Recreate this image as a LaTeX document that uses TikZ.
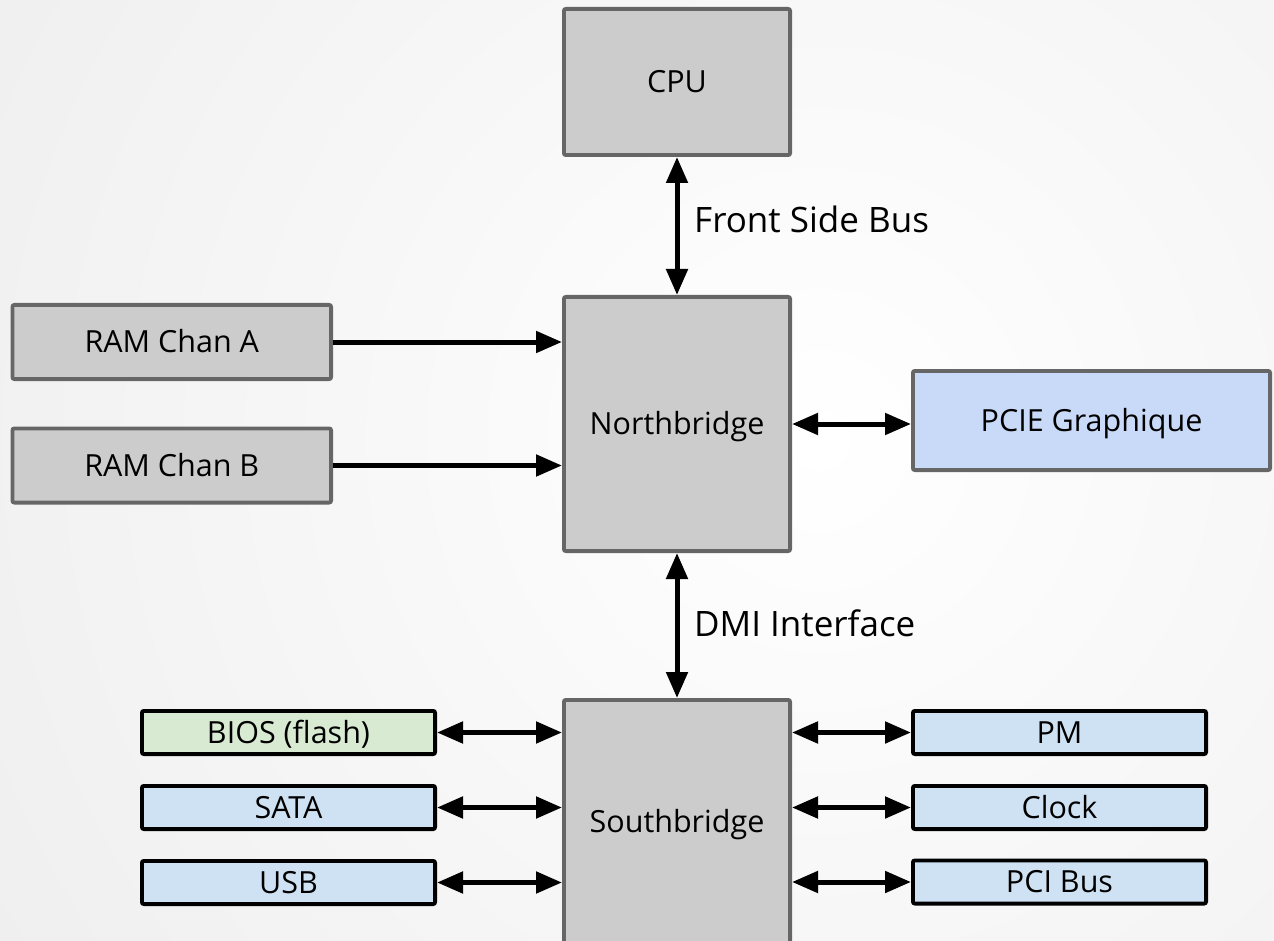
\documentclass[tikz,border=0pt]{standalone}
\usepackage{fontspec}
\setmainfont{Open Sans}
\usetikzlibrary{arrows.meta}
\definecolor{bggray}{RGB}{222,222,222}
\definecolor{boxgray}{RGB}{204,204,204}
\definecolor{edgegray}{RGB}{102,102,102}
\definecolor{pcieblue}{RGB}{201,218,248}
\definecolor{lightblue}{RGB}{207,226,243}
\definecolor{lightgreen}{RGB}{217,234,211}
\tikzset{
  bigbox/.style={draw=edgegray, fill=boxgray, line width=3.8pt, rounded corners=2pt,
    inner sep=0pt, text height=21.8pt, text depth=0pt,
    font=\fontsize{30.5}{36}\selectfont},
  smallbox/.style={draw=black, line width=3.8pt, rounded corners=2pt,
    inner sep=0pt, text height=21.8pt, text depth=0pt,
    minimum width=293.2pt, minimum height=43.2pt,
    font=\fontsize{30.5}{36}\selectfont},
  link/.style={line width=5pt, -{Triangle[length=26pt,width=21pt]}},
  biglink/.style={line width=5pt, {Triangle[length=26pt,width=21pt]}-{Triangle[length=26pt,width=21pt]}},
  buslabel/.style={inner sep=0pt, anchor=base west, font=\fontsize{35}{42}\selectfont}
}
\begin{document}
\begin{tikzpicture}[x=1pt,y=-1pt]
\useasboundingbox (0,0) rectangle (1274,941);
\begin{scope}
\clip (0,0) rectangle (1274,941);
\shade[inner color=white, outer color=bggray] (820,440) circle (2000);
\end{scope}
\begin{scope}
\clip (0,0) rectangle (1274,941);
\node[bigbox, minimum width=226.2pt, minimum height=146.2pt] (cpu) at (677,82) {CPU};
\node[bigbox, minimum width=226.2pt, minimum height=254.2pt] (nb) at (677,424) {Northbridge};
\node[bigbox, minimum width=226.2pt, minimum height=244.2pt] (sb) at (677,822) {Southbridge};
\node[bigbox, minimum width=318.7pt, minimum height=74.2pt] (rama) at (171.75,342) {RAM Chan A};
\node[bigbox, minimum width=318.7pt, minimum height=74.2pt] (ramb) at (171.75,465.5) {RAM Chan B};
\node[bigbox, fill=pcieblue, minimum width=357.2pt, minimum height=99.2pt] (pcie) at (1091.5,420.5) {PCIE Graphique};
\end{scope}
\node[smallbox, fill=lightgreen] (bios) at (288.5,732.5) {BIOS (flash)};
\node[smallbox, fill=lightblue] (sata) at (288.5,807.5) {SATA};
\node[smallbox, fill=lightblue] (usb) at (288.5,882.5) {USB};
\node[smallbox, fill=lightblue] (pm) at (1059.5,732.5) {PM};
\node[smallbox, fill=lightblue] (clock) at (1059.5,807.5) {Clock};
\node[smallbox, fill=lightblue] (pci) at (1059.5,882) {PCI Bus};

\draw[biglink] (cpu.south) -- (nb.north);
\draw[biglink] (nb.south) -- (sb.north);
\node[buslabel] (fsb) at (694,233) {Front Side Bus};
\node[buslabel] (dmi) at (694,636) {DMI Interface};

\draw[link] (rama.east) -- (nb.west |- rama.east);
\draw[link] (ramb.east) -- (nb.west |- ramb.east);
\draw[biglink] (nb.east) -- (pcie.west |- nb.east);

\draw[biglink] (bios.east) -- (sb.west |- bios.east);
\draw[biglink] (sata.east) -- (sb.west |- sata.east);
\draw[biglink] (usb.east) -- (sb.west |- usb.east);
\draw[biglink] (sb.east |- pm.west) -- (pm.west);
\draw[biglink] (sb.east |- clock.west) -- (clock.west);
\draw[biglink] (sb.east |- pci.west) -- (pci.west);
\end{tikzpicture}
\end{document}
